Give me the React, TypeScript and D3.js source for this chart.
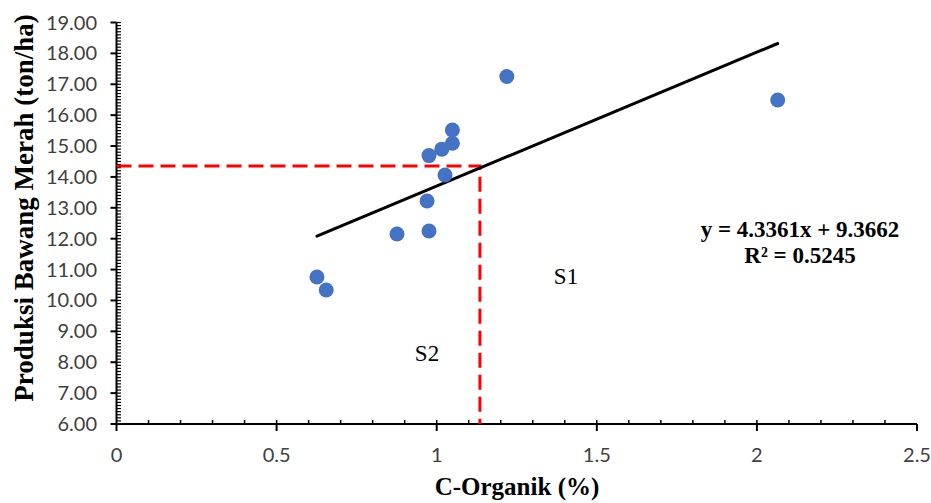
import React, { useEffect, useRef } from 'react';
import * as d3 from 'd3';

// data
const cOrganik = [0.626, 0.655, 0.876, 0.976, 0.97, 1.026, 0.976, 1.016, 1.049, 1.049, 1.219, 2.065];
const produksi = [10.76, 10.34, 12.15, 12.25, 13.22, 14.06, 14.69, 14.9, 15.09, 15.52, 17.25, 16.49];
const slope = 4.3361;
const intercept = 9.3662;
const threshold = [1.135, 14.35]; // S1 / S2 boundary
const xTicks = [0, 0.5, 1, 1.5, 2, 2.5];
const yTicks = [6, 7, 8, 9, 10, 11, 12, 13, 14, 15, 16, 17, 18, 19];

const App = () => {
  const ref = useRef(null);

  useEffect(() => {
    const svg = d3.select(ref.current);
    svg.selectAll('*').remove();

    const x = d3.scaleLinear().domain([0, 2.5]).range([116.5, 917]);
    const y = d3.scaleLinear().domain([6, 19]).range([424, 22.5]);
    const tickFont = 'Lato, sans-serif';
    const serif = '"Liberation Serif", serif';

    // minor ticks (inside)
    const g = svg.append('g');
    g.selectAll('.xminor')
      .data(d3.range(1, 25).map(i => i / 10))
      .enter().append('line')
      .attr('x1', d => x(d)).attr('x2', d => x(d))
      .attr('y1', y(6)).attr('y2', y(6) - 4)
      .attr('stroke', '#000').attr('stroke-width', 1.5);
    g.selectAll('.yminor')
      .data(d3.range(61, 191).map(i => i / 10))
      .enter().append('line')
      .attr('x1', x(0)).attr('x2', x(0) + 4.5)
      .attr('y1', d => y(d)).attr('y2', d => y(d))
      .attr('stroke', '#000').attr('stroke-width', 1.2);

    // major ticks (outside)
    g.selectAll('.xmajor')
      .data(xTicks)
      .enter().append('line')
      .attr('x1', d => x(d)).attr('x2', d => x(d))
      .attr('y1', y(6)).attr('y2', y(6) + 7)
      .attr('stroke', '#000').attr('stroke-width', 2);
    g.selectAll('.ymajor')
      .data(yTicks)
      .enter().append('line')
      .attr('x1', x(0) - 6).attr('x2', x(0))
      .attr('y1', d => y(d)).attr('y2', d => y(d))
      .attr('stroke', '#000').attr('stroke-width', 2);

    // axis lines
    g.append('line')
      .attr('x1', x(0)).attr('x2', x(2.5))
      .attr('y1', y(6)).attr('y2', y(6))
      .attr('stroke', '#000').attr('stroke-width', 2);
    g.append('line')
      .attr('x1', x(0)).attr('x2', x(0))
      .attr('y1', y(6)).attr('y2', y(19))
      .attr('stroke', '#000').attr('stroke-width', 2);

    // tick labels
    g.selectAll('.xlab')
      .data(xTicks)
      .enter().append('text')
      .attr('x', d => x(d)).attr('y', 462)
      .attr('text-anchor', 'middle')
      .style('font', '20px ' + tickFont)
      .attr('fill', '#404040')
      .text(d => String(d));
    g.selectAll('.ylab')
      .data(yTicks)
      .enter().append('text')
      .attr('x', 97).attr('y', d => y(d) + 7)
      .attr('text-anchor', 'end')
      .style('font', '20px ' + tickFont)
      .attr('fill', '#404040')
      .text(d => d.toFixed(2));

    // axis titles
    svg.append('text')
      .attr('transform', 'translate(33,208) rotate(-90)')
      .attr('text-anchor', 'middle')
      .style('font', 'bold 27px ' + serif)
      .text('Produksi Bawang Merah (ton/ha)');
    svg.append('text')
      .attr('x', 517).attr('y', 495)
      .attr('text-anchor', 'middle')
      .style('font', 'bold 25px ' + serif)
      .text('C-Organik (%)');

    // red dashed threshold
    svg.append('path')
      .attr('d', d3.line()([
        [x(0), y(threshold[1])],
        [x(threshold[0]), y(threshold[1])],
        [x(threshold[0]), y(6)]
      ]))
      .attr('fill', 'none')
      .attr('stroke', '#ff0000')
      .attr('stroke-width', 3)
      .attr('stroke-dasharray', '15,7');

    // trend line
    const [xmin, xmax] = d3.extent(cOrganik);
    svg.append('line')
      .attr('x1', x(xmin)).attr('y1', y(slope * xmin + intercept))
      .attr('x2', x(xmax)).attr('y2', y(slope * xmax + intercept))
      .attr('stroke', '#000').attr('stroke-width', 3)
      .attr('stroke-linecap', 'round');

    // points
    svg.selectAll('.dot')
      .data(cOrganik)
      .enter().append('circle')
      .attr('cx', d => x(d))
      .attr('cy', (d, i) => y(produksi[i]))
      .attr('r', 7.5)
      .attr('fill', '#4472c4');

    // labels
    svg.append('text')
      .attr('x', 800).attr('y', 237)
      .attr('text-anchor', 'middle')
      .style('font', 'bold 23px ' + serif)
      .text('y = 4.3361x + 9.3662');
    svg.append('text')
      .attr('x', 800).attr('y', 263)
      .attr('text-anchor', 'middle')
      .style('font', 'bold 23px ' + serif)
      .text('R² = 0.5245');
    svg.append('text')
      .attr('x', 566).attr('y', 284)
      .attr('text-anchor', 'middle')
      .style('font', '23px ' + serif)
      .text('S1');
    svg.append('text')
      .attr('x', 427).attr('y', 361)
      .attr('text-anchor', 'middle')
      .style('font', '23px ' + serif)
      .text('S2');
  }, []);

  return (
    <svg ref={ref} width={931} height={503}
      style={{ position: 'absolute', left: 0, top: 0, background: '#fff' }} />
  );
};

export default App;
